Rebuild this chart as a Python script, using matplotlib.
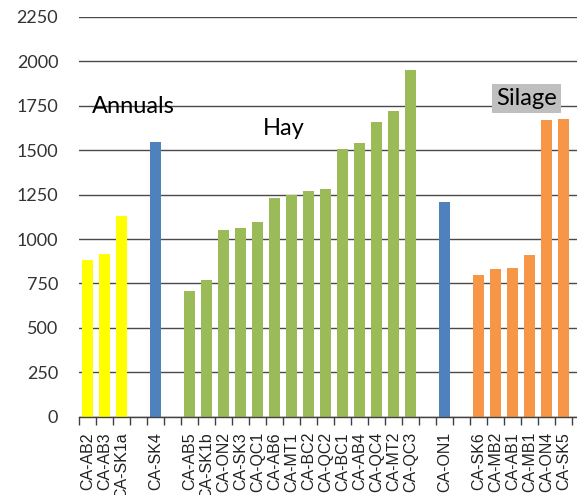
import numpy as np
import matplotlib.pyplot as plt

# Site groups, in plotting order (blank slots separate the groups)
annual_sites = ["CA-AB2", "CA-AB3", "CA-SK1a"]
annual_vals = [883, 917, 1132]
sk4_site = ["CA-SK4"]
sk4_vals = [1545]
hay_sites = ["CA-AB5", "CA-SK1b", "CA-ON2", "CA-SK3", "CA-QC1", "CA-AB6", "CA-MT1",
             "CA-BC2", "CA-QC2", "CA-BC1", "CA-AB4", "CA-QC4", "CA-MT2", "CA-QC3"]
hay_vals = [705, 767, 1052, 1063, 1095, 1232, 1245, 1269, 1282, 1507, 1540, 1658, 1721, 1952]
on1_site = ["CA-ON1"]
on1_vals = [1206]
silage_sites = ["CA-SK6", "CA-MB2", "CA-AB1", "CA-MB1", "CA-ON4", "CA-SK5"]
silage_vals = [799, 829, 837, 911, 1670, 1677]

groups = [
    (annual_sites, annual_vals, "#FFFF00"),
    (sk4_site, sk4_vals, "#4F81BD"),
    (hay_sites, hay_vals, "#9BBB59"),
    (on1_site, on1_vals, "#4F81BD"),
    (silage_sites, silage_vals, "#F79646"),
]

labels, values, colors = [], [], []
for i, (sites, vals, col) in enumerate(groups):
    if i > 0:
        labels.append(""); values.append(np.nan); colors.append("none")
    labels += sites; values += vals; colors += [col] * len(sites)

x = np.arange(len(labels))
vals = np.array(values, dtype=float)

fig = plt.figure(figsize=(5.77, 4.95), dpi=100)
ax = fig.add_axes([0.137, 0.158, 0.863, 0.808])

ax.set_axisbelow(True)
ax.yaxis.grid(True, color="#4a4a4a", linewidth=1.0)
mask = ~np.isnan(vals)
ax.bar(x[mask], vals[mask], width=0.6, color=np.array(colors)[mask], zorder=2)

ax.set_ylim(0, 2250)
ax.set_yticks(np.arange(0, 2251, 250))
ax.set_xlim(-0.5, len(labels) - 0.5 + 0.3)

# category boundaries carry the tick marks, names sit between them
ax.set_xticks(np.arange(-0.5, len(labels)), labels=[])
ax.set_xticks(x, labels=labels, minor=True)
ax.tick_params(axis="x", which="major", length=6, width=1, color="#404040", direction="out")
ax.tick_params(axis="x", which="minor", length=0, pad=11, labelsize=11.5, rotation=90)
for t in ax.get_xticklabels(minor=True):
    t.set_fontfamily("Liberation Sans")
    t.set_color("#222222")
ax.tick_params(axis="y", length=0, pad=15, labelsize=13, labelcolor="#333333")
for t in ax.get_yticklabels():
    t.set_fontfamily("Lato")

for side in ("left", "right", "top"):
    ax.spines[side].set_visible(False)
ax.spines["bottom"].set_color("#404040")
ax.spines["bottom"].set_linewidth(1.0)

ax.text(0.27, 1710, "Annuals", fontsize=17, family="Lato", va="baseline", ha="left", zorder=3)
ax.text(10.3, 1586, "Hay", fontsize=17, family="Lato", va="baseline", ha="left", zorder=3)
ax.text(24.05, 1755, "Silage", fontsize=17, family="Lato", va="baseline", ha="left", zorder=3,
        bbox=dict(facecolor="#BFBFBF", edgecolor="none", pad=3))

fig.savefig("out.png", dpi=100)
